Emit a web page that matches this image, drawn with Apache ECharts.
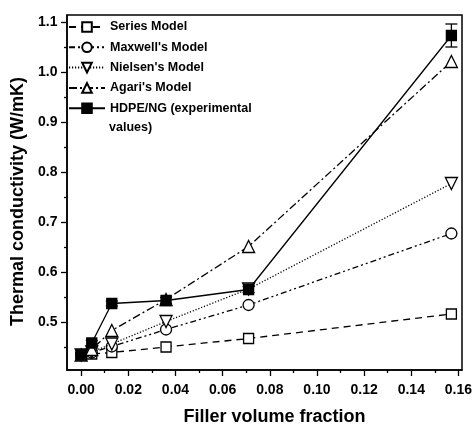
<!DOCTYPE html>
<html><head><meta charset="utf-8">
<script src="https://cdn.jsdelivr.net/npm/echarts@6/dist/echarts.min.js"></script>
<style>html,body{margin:0;padding:0;background:#fff}#c{width:472px;height:425px}</style>
</head><body><div id="c"></div>
<script>
// ---- data ----
const xValues = [0, 0.0045, 0.013, 0.036, 0.071, 0.157];
const seriesModel = [0.435, 0.437, 0.440, 0.451, 0.468, 0.517];
const maxwellModel = [0.435, 0.440, 0.452, 0.486, 0.535, 0.678];
const nielsenModel = [0.435, 0.441, 0.457, 0.502, 0.567, 0.778];
const agariModel = [0.435, 0.446, 0.484, 0.546, 0.652, 1.022];
const hdpeExp = [0.435, 0.459, 0.538, 0.544, 0.566, 1.074];
const hdpeErr = [0.005, 0.005, 0.005, 0.006, 0.006, 0.023];
const xMajor = [0, 0.02, 0.04, 0.06, 0.08, 0.10, 0.12, 0.14, 0.16];
const xMinor = [0.01, 0.03, 0.05, 0.07, 0.09, 0.11, 0.13, 0.15];
const yMajor = [0.5, 0.6, 0.7, 0.8, 0.9, 1.0, 1.1];
const yMinor = [0.45, 0.55, 0.65, 0.75, 0.85, 0.95, 1.05];
const names = ['Series Model', "Maxwell's Model", "Nielsen's Model", "Agari's Model", 'HDPE/NG (experimental values)'];
const legendLine1 = 'HDPE/NG (experimental';
const legendLine2 = 'values)';

const pair = arr => xValues.map((x, i) => [x, arr[i]]);
const FONT = '"Liberation Sans", Arial, sans-serif';
const XMIN = -0.006, XMAX = 0.1615, YMIN = 0.405, YMAX = 1.115;

const chart = echarts.init(document.getElementById('c'), null, {renderer: 'canvas'});

function lineSeries(name, data, symbol, size, dash, filled, z) {
  return {
    name, type: 'line', data: pair(data), symbol, symbolSize: size,
    xAxisIndex: 0, yAxisIndex: 0, z: z,
    lineStyle: {color: '#000', width: 1.3, type: dash},
    itemStyle: {color: filled ? '#000' : '#fff', borderColor: '#000', borderWidth: 1.3},
    emphasis: {disabled: true}, animation: false
  };
}

const axisBase = {type: 'value', splitLine: {show: false}};
const labelFont = {fontFamily: FONT, fontWeight: 'bold', fontSize: 14, color: '#000'};

chart.setOption({
  animation: false,
  grid: {left: 67, top: 15, right: 10, bottom: 55, outerBoundsMode: 'none', containLabel: false,
         show: true, borderColor: '#000', borderWidth: 1.5, backgroundColor: 'transparent'},
  legend: {
    orient: 'vertical', left: 68, top: 20, padding: 0, itemWidth: 36, itemHeight: 12, itemGap: 6.3, itemGap: 6.3,
    textStyle: {fontFamily: FONT, fontWeight: 'bold', fontSize: 12.5, color: '#000', lineHeight: 14},
    data: names,
    formatter: n => n === names[4] ? legendLine1 : n,
    selectedMode: false
  },
  graphic: [{
    type: 'text', left: 109, top: 121, silent: true,
    style: {text: legendLine2, fontFamily: FONT, fontWeight: 'bold', fontSize: 12.5, fill: '#000'}
  }],
  xAxis: [
    Object.assign({}, axisBase, {
      min: XMIN, max: XMAX, position: 'bottom',
      name: 'Filler volume fraction', nameLocation: 'middle', nameGap: 38,
      nameTextStyle: {fontFamily: FONT, fontWeight: 'bold', fontSize: 18, color: '#000', padding: [0, 0, 0, 20]},
      axisLine: {show: true, onZero: false, lineStyle: {color: '#000', width: 1.5}},
      axisTick: {show: true, length: 6, customValues: xMajor, lineStyle: {color: '#000', width: 1.3}},
      axisLabel: Object.assign({customValues: xMajor, formatter: v => v.toFixed(2), margin: 13}, labelFont)
    }),
    Object.assign({}, axisBase, {
      min: XMIN, max: XMAX, position: 'bottom',
      axisLine: {show: false, onZero: false},
      axisTick: {show: true, length: 3, customValues: xMinor, lineStyle: {color: '#000', width: 1.3}},
      axisLabel: {show: false, customValues: xMinor}
    })
  ],
  yAxis: [
    Object.assign({}, axisBase, {
      min: YMIN, max: YMAX, position: 'left',
      name: 'Thermal conductivity (W/mK)', nameLocation: 'middle', nameGap: 38,
      nameTextStyle: {fontFamily: FONT, fontWeight: 'bold', fontSize: 18, color: '#000', padding: [0, 18, 0, 0]},
      axisLine: {show: true, onZero: false, lineStyle: {color: '#000', width: 1.5}},
      axisTick: {show: true, length: 6, customValues: yMajor, lineStyle: {color: '#000', width: 1.3}},
      axisLabel: Object.assign({customValues: yMajor, formatter: v => v.toFixed(1), margin: 9.5}, labelFont)
    }),
    Object.assign({}, axisBase, {
      min: YMIN, max: YMAX, position: 'left',
      axisLine: {show: false, onZero: false},
      axisTick: {show: true, length: 3, customValues: yMinor, lineStyle: {color: '#000', width: 1.3}},
      axisLabel: {show: false, customValues: yMinor}
    })
  ],
  series: [
    lineSeries(names[0], seriesModel, 'rect', 10, [7, 5], false, 2),
    lineSeries(names[1], maxwellModel, 'circle', 11, [6, 3, 2, 3, 2, 3], false, 3),
    lineSeries(names[2], nielsenModel, 'path://M-1,-1 L1,-1 L0,0.8 Z', 12, [1.2, 1.8], false, 4),
    lineSeries(names[3], agariModel, 'triangle', 12, [8, 3, 2, 3], false, 5),
    lineSeries(names[4], hdpeExp, 'rect', 10, 'solid', true, 7),
    {
      type: 'custom', xAxisIndex: 0, yAxisIndex: 0, z: 8, silent: true,
      data: xValues.map((x, i) => [x, hdpeExp[i] - hdpeErr[i], hdpeExp[i] + hdpeErr[i]]),
      renderItem: function (params, api) {
        const lo = api.coord([api.value(0), api.value(1)]);
        const hi = api.coord([api.value(0), api.value(2)]);
        const w = 6;
        const st = {stroke: '#000', lineWidth: 1.3};
        return {type: 'group', children: [
          {type: 'line', shape: {x1: lo[0], y1: lo[1], x2: hi[0], y2: hi[1]}, style: st},
          {type: 'line', shape: {x1: lo[0] - w, y1: lo[1], x2: lo[0] + w, y2: lo[1]}, style: st},
          {type: 'line', shape: {x1: hi[0] - w, y1: hi[1], x2: hi[0] + w, y2: hi[1]}, style: st}
        ]};
      }
    }
  ]
});
</script></body></html>
